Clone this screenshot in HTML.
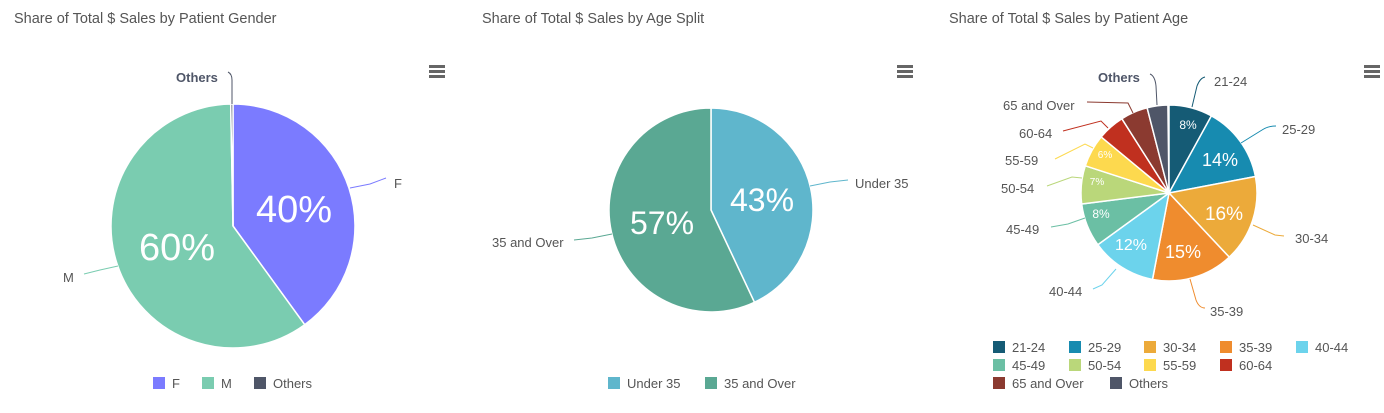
<!DOCTYPE html>
<html><head><meta charset="utf-8"><style>
body{margin:0;background:#fff;width:1384px;height:413px;overflow:hidden;font-family:"Liberation Sans",sans-serif}
svg{position:absolute;left:0;top:0}
</style></head><body>
<svg id="s" width="1384" height="413" xmlns="http://www.w3.org/2000/svg" font-family="Liberation Sans, sans-serif">
<g fill="#555" font-size="14.5">
<text x="14" y="23">Share of Total $ Sales by Patient Gender</text>
<text x="482" y="23">Share of Total $ Sales by Age Split</text>
<text x="949" y="23">Share of Total $ Sales by Patient Age</text>
</g>
<g fill="#666">
<rect x="429" y="65" width="16" height="3"/><rect x="429" y="70" width="16" height="3"/><rect x="429" y="75" width="16" height="3"/>
<rect x="897" y="65" width="16" height="3"/><rect x="897" y="70" width="16" height="3"/><rect x="897" y="75" width="16" height="3"/>
<rect x="1364" y="65" width="16" height="3"/><rect x="1364" y="70" width="16" height="3"/><rect x="1364" y="75" width="16" height="3"/>
</g>
<g id="pies"></g>
<g fill="none" stroke-width="1">
<path d="M232,104 L232,80 Q232,74 228,72" stroke="#4f5668"/>
<path d="M350,188 L370,184 L386,178" stroke="#7b7bff"/>
<path d="M118,266 L100,270 L84,274" stroke="#7accb0"/>
<path d="M810,186 L830,182 L848,180" stroke="#5fb6cc"/>
<path d="M612,234 L592,238 L574,240" stroke="#5aa893"/>
<path d="M1192,107 L1197,86 Q1200,78 1205,77" stroke="#155b75"/>
<path d="M1241,143 L1262,130 Q1268,126 1276,126" stroke="#178bb0"/>
<path d="M1253,225 L1275,235 L1284,236" stroke="#ecaa3a"/>
<path d="M1190,279 L1196,300 Q1199,308 1205,308" stroke="#ef8c2e"/>
<path d="M1116,269 L1102,285 L1093,289" stroke="#6cd3ec"/>
<path d="M1085,218 L1068,224 L1051,227" stroke="#6bbfa4"/>
<path d="M1082,178 L1072,177 L1047,186" stroke="#bad77a"/>
<path d="M1093,148 L1085,144 L1055,159" stroke="#fdd94e"/>
<path d="M1108,128 L1101,121 L1063,131" stroke="#c0301f"/>
<path d="M1133,113 L1128,103 L1087,102" stroke="#8b3a30"/>
<path d="M1157,105 L1156,86 Q1155,76 1150,74" stroke="#4f5668"/>
</g>
<g font-size="13" fill="#555">
<text x="176" y="82" font-weight="bold" fill="#4f5668">Others</text>
<text x="394" y="188">F</text>
<text x="63" y="282">M</text>
<text x="855" y="188">Under 35</text>
<text x="492" y="247">35 and Over</text>
<text x="1098" y="82" font-weight="bold" fill="#4f5668">Others</text>
<text x="1214" y="86">21-24</text>
<text x="1282" y="134">25-29</text>
<text x="1295" y="243">30-34</text>
<text x="1210" y="316">35-39</text>
<text x="1049" y="296">40-44</text>
<text x="1006" y="234">45-49</text>
<text x="1001" y="193">50-54</text>
<text x="1005" y="165">55-59</text>
<text x="1019" y="138">60-64</text>
<text x="1003" y="110">65 and Over</text>
</g>
<g fill="#fff" text-anchor="middle">
<text x="294" y="222" font-size="38">40%</text>
<text x="177" y="260" font-size="38">60%</text>
<text x="762" y="211" font-size="32">43%</text>
<text x="662" y="234" font-size="32">57%</text>
<text x="1188" y="129" font-size="12">8%</text>
<text x="1220" y="166" font-size="18">14%</text>
<text x="1224" y="220" font-size="19">16%</text>
<text x="1183" y="258" font-size="18">15%</text>
<text x="1131" y="250" font-size="16">12%</text>
<text x="1101" y="218" font-size="12">8%</text>
<text x="1097" y="185" font-size="10">7%</text>
<text x="1105" y="158" font-size="10">6%</text>
</g>
<g id="leg" font-size="13" fill="#555"></g>
</svg>
<script>
var NS="http://www.w3.org/2000/svg",g=document.getElementById("pies");
function pie(cx,cy,r,data){var a=0;data.forEach(function(d){var a0=a,a1=a+d[0]*3.6;a=a1;
var r0=(a0-90)*Math.PI/180,r1=(a1-90)*Math.PI/180;
var p=document.createElementNS(NS,"path");
p.setAttribute("d","M"+cx+","+cy+" L"+(cx+r*Math.cos(r0))+","+(cy+r*Math.sin(r0))+" A"+r+","+r+" 0 "+((a1-a0)>180?1:0)+" 1 "+(cx+r*Math.cos(r1))+","+(cy+r*Math.sin(r1))+" Z");
p.setAttribute("fill",d[1]);p.setAttribute("stroke","#fff");p.setAttribute("stroke-width","1.5");g.appendChild(p);});}
pie(233,226,122,[[40,"#7b7bff"],[59.7,"#7accb0"],[0.3,"#4f5668"]]);
pie(711,210,102,[[43,"#5fb6cc"],[57,"#5aa893"]]);
pie(1169,193,88,[[8,"#155b75"],[14,"#178bb0"],[16,"#ecaa3a"],[15,"#ef8c2e"],[12,"#6cd3ec"],[8,"#6bbfa4"],[7,"#bad77a"],[6,"#fdd94e"],[5,"#c0301f"],[5,"#8b3a30"],[3.8,"#4f5668"]]);
var L=document.getElementById("leg");
function item(x,y,c,t){var r=document.createElementNS(NS,"rect");r.setAttribute("x",x);r.setAttribute("y",y-6);r.setAttribute("width",12);r.setAttribute("height",12);r.setAttribute("fill",c);L.appendChild(r);
var tx=document.createElementNS(NS,"text");tx.setAttribute("x",x+19);tx.setAttribute("y",y+5);tx.textContent=t;L.appendChild(tx);}
item(153,383,"#7b7bff","F");item(202,383,"#7accb0","M");item(254,383,"#4f5668","Others");
item(608,383,"#5fb6cc","Under 35");item(705,383,"#5aa893","35 and Over");
var pos=[[993,347],[1069,347],[1144,347],[1220,347],[1296,347],[993,365],[1069,365],[1144,365],[1220,365],[993,383],[1110,383]];
[["21-24","#155b75"],["25-29","#178bb0"],["30-34","#ecaa3a"],["35-39","#ef8c2e"],["40-44","#6cd3ec"],["45-49","#6bbfa4"],["50-54","#bad77a"],["55-59","#fdd94e"],["60-64","#c0301f"],["65 and Over","#8b3a30"],["Others","#4f5668"]].forEach(function(d,i){
item(pos[i][0],pos[i][1],d[1],d[0]);});
</script>
</body></html>
